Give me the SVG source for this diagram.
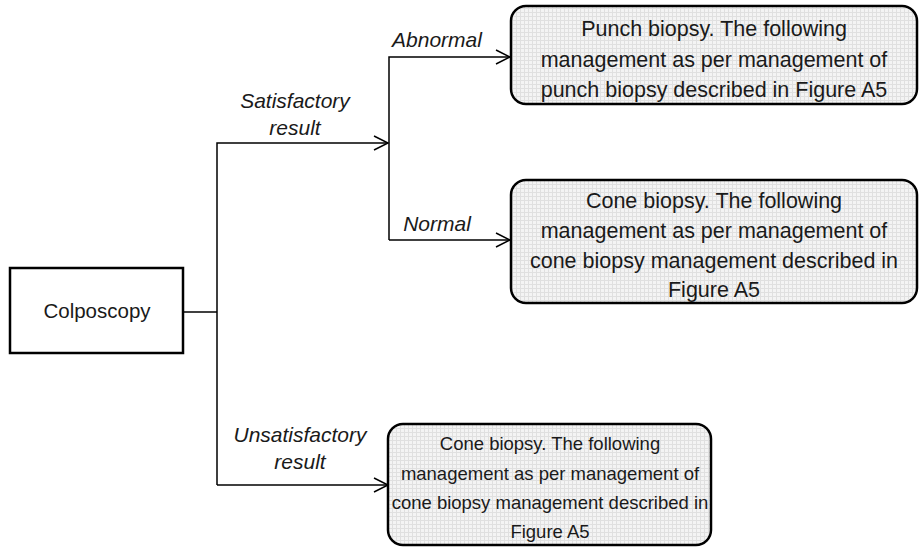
<svg xmlns="http://www.w3.org/2000/svg" width="919" height="548" viewBox="0 0 919 548">
<defs>
<pattern id="grid" width="4" height="4" patternUnits="userSpaceOnUse">
<rect width="4" height="4" fill="#f4f4f4"/>
<path d="M0 0.5H4M0.5 0V4" stroke="#e0e0e0" stroke-width="1" fill="none"/>
</pattern>
<marker id="arr" markerWidth="20" markerHeight="16" refX="18" refY="8" orient="auto" markerUnits="userSpaceOnUse">
<path d="M4 1L18 8L4 15" fill="none" stroke="#000" stroke-width="1.5"/>
</marker>
<style>
.box{fill:url(#grid);stroke:#000;stroke-width:2.5}
.t{font-family:"Liberation Sans",Arial,sans-serif;font-size:21.5px;fill:#1a1a1a;text-anchor:middle}
.s{font-size:18.5px}
.l{font-family:"Liberation Sans",Arial,sans-serif;font-size:21px;font-style:italic;fill:#1a1a1a;text-anchor:middle}
.c{fill:none;stroke:#000;stroke-width:1.5}
</style>
</defs>
<rect width="919" height="548" fill="#fff"/>
<g id="connectors">
<path class="c" d="M183 312H217"/>
<path class="c" d="M217 485V143H388" marker-end="url(#arr)"/>
<path class="c" d="M217 485H388" marker-end="url(#arr)"/>
<path class="c" d="M389 240V57H510" marker-end="url(#arr)"/>
<path class="c" d="M389 240H510" marker-end="url(#arr)"/>
<text class="l" x="437" y="47">Abnormal</text>
<text class="l" x="295" y="108">Satisfactory</text>
<text class="l" x="295" y="135">result</text>
<text class="l" x="300" y="442">Unsatisfactory</text>
<text class="l" x="300" y="469">result</text>
<text class="l" x="437" y="231">Normal</text>
</g>
<g id="colposcopy">
<rect x="10" y="268" width="173" height="85" fill="#fff" stroke="#000" stroke-width="2.5"/>
<text class="t" x="97" y="318" style="font-size:20.5px">Colposcopy</text>
</g>
<g id="punch">
<rect class="box" x="511" y="6" width="406" height="98" rx="15"/>
<text class="t" x="714" y="36">Punch biopsy. The following</text>
<text class="t" x="714" y="67">management as per management of</text>
<text class="t" x="714" y="97">punch biopsy described in Figure A5</text>
</g>
<g id="cone1">
<rect class="box" x="511" y="180" width="406" height="123" rx="15"/>
<text class="t" x="714" y="208">Cone biopsy. The following</text>
<text class="t" x="714" y="238">management as per management of</text>
<text class="t" x="714" y="268">cone biopsy management described in</text>
<text class="t" x="714" y="297">Figure A5</text>
</g>
<g id="cone2">
<rect class="box" x="388" y="424" width="323" height="121" rx="15"/>
<text class="t s" x="550" y="450">Cone biopsy. The following</text>
<text class="t s" x="550" y="480">management as per management of</text>
<text class="t s" x="550" y="509">cone biopsy management described in</text>
<text class="t s" x="550" y="538">Figure A5</text>
</g>
</svg>
